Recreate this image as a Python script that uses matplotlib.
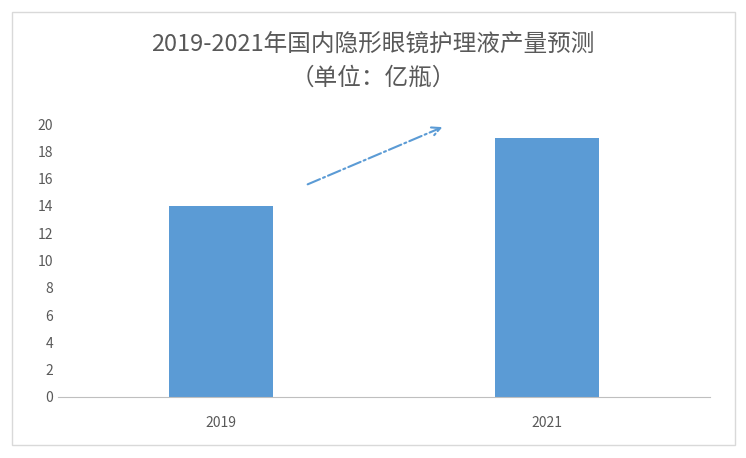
import matplotlib.pyplot as plt
from matplotlib.patches import Rectangle

plt.rcParams['font.family'] = ['Noto Sans CJK SC', 'DejaVu Sans']

years = ["2019", "2021"]
output = [14, 19]

fig = plt.figure(figsize=(7.46, 4.58), dpi=100)
ax = fig.add_axes([58/746, 1-397/458, 652/746, 273/458])

x = range(len(years))
ax.bar(x, output, width=0.32, color="#5B9BD5")
ax.set_xlim(-0.5, 1.5)
ax.set_ylim(0, 20)
ax.set_yticks(range(0, 21, 2))
ax.set_xticks(list(x))
ax.set_xticklabels(years)
ax.tick_params(length=0, labelsize=10, colors="#595959")
ax.tick_params(axis="x", pad=14)
for s in ["top", "right", "left"]:
    ax.spines[s].set_visible(False)
ax.spines["bottom"].set_color("#BFBFBF")

# trend arrow
ax.annotate("", xy=(0.687, 19.85), xytext=(0.258, 15.5),
            arrowprops=dict(arrowstyle="->", color="#5B9BD5", lw=1.5,
                            linestyle="-.", mutation_scale=15))

fig.text(0.5, 1-45/458, "2019-2021年国内隐形眼镜护理液产量预测", ha="center",
         va="center", fontsize=17, color="#595959")
fig.text(0.5, 1-78/458, "（单位：亿瓶）", ha="center", va="center",
         fontsize=17, color="#595959")

fig.patches.append(Rectangle((12/746, 1-445/458), 723/746, 433/458,
                             transform=fig.transFigure, fill=False,
                             edgecolor="#D9D9D9", lw=1))

fig.savefig("out.png", dpi=100)
